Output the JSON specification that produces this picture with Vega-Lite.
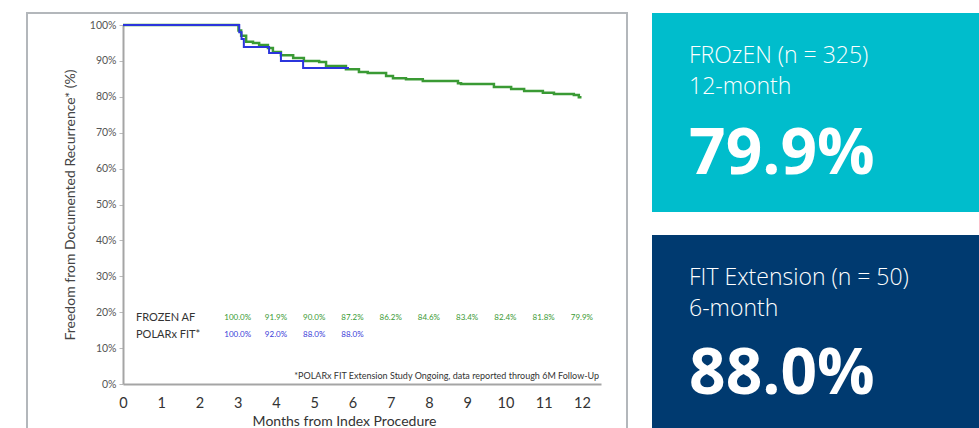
{
  "$schema": "https://vega.github.io/schema/vega-lite/v6.json",
  "background": "white",
  "padding": {"left": 26, "top": 12, "right": 0, "bottom": 0},
  "spacing": 24,
  "config": {"font": "Lato", "axis": {"grid": false}},
  "datasets": {
    "km": [
      {"series": "FROZEN AF", "month": 0, "surv": 100},
      {"series": "FROZEN AF", "month": 3.02, "surv": 98.5},
      {"series": "FROZEN AF", "month": 3.09, "surv": 97.0},
      {"series": "FROZEN AF", "month": 3.22, "surv": 95.3},
      {"series": "FROZEN AF", "month": 3.40, "surv": 95.0},
      {"series": "FROZEN AF", "month": 3.56, "surv": 94.4},
      {"series": "FROZEN AF", "month": 3.79, "surv": 93.6},
      {"series": "FROZEN AF", "month": 3.92, "surv": 92.5},
      {"series": "FROZEN AF", "month": 4.13, "surv": 91.6},
      {"series": "FROZEN AF", "month": 4.45, "surv": 90.8},
      {"series": "FROZEN AF", "month": 4.73, "surv": 90.0},
      {"series": "FROZEN AF", "month": 5.13, "surv": 89.7},
      {"series": "FROZEN AF", "month": 5.31, "surv": 88.6},
      {"series": "FROZEN AF", "month": 5.83, "surv": 87.7},
      {"series": "FROZEN AF", "month": 6.17, "surv": 86.9},
      {"series": "FROZEN AF", "month": 6.40, "surv": 86.6},
      {"series": "FROZEN AF", "month": 6.88, "surv": 85.8},
      {"series": "FROZEN AF", "month": 7.06, "surv": 85.2},
      {"series": "FROZEN AF", "month": 7.40, "surv": 84.9},
      {"series": "FROZEN AF", "month": 7.84, "surv": 84.4},
      {"series": "FROZEN AF", "month": 8.76, "surv": 83.8},
      {"series": "FROZEN AF", "month": 8.84, "surv": 83.6},
      {"series": "FROZEN AF", "month": 9.70, "surv": 82.7},
      {"series": "FROZEN AF", "month": 10.15, "surv": 82.2},
      {"series": "FROZEN AF", "month": 10.49, "surv": 81.6},
      {"series": "FROZEN AF", "month": 10.98, "surv": 81.1},
      {"series": "FROZEN AF", "month": 11.27, "surv": 80.8},
      {"series": "FROZEN AF", "month": 11.79, "surv": 80.5},
      {"series": "FROZEN AF", "month": 11.92, "surv": 79.9},
      {"series": "FROZEN AF", "month": 11.99, "surv": 79.9},
      {"series": "POLARx FIT", "month": 0, "surv": 100},
      {"series": "POLARx FIT", "month": 3.04, "surv": 98.0},
      {"series": "POLARx FIT", "month": 3.10, "surv": 96.1},
      {"series": "POLARx FIT", "month": 3.16, "surv": 93.9},
      {"series": "POLARx FIT", "month": 3.82, "surv": 92.2},
      {"series": "POLARx FIT", "month": 4.13, "surv": 90.0},
      {"series": "POLARx FIT", "month": 4.71, "surv": 88.0},
      {"series": "POLARx FIT", "month": 5.91, "surv": 88.0}
    ],
    "tbl": [
      {"series": "FROZEN AF", "month": 3, "label": "100.0%"},
      {"series": "FROZEN AF", "month": 4, "label": "91.9%"},
      {"series": "FROZEN AF", "month": 5, "label": "90.0%"},
      {"series": "FROZEN AF", "month": 6, "label": "87.2%"},
      {"series": "FROZEN AF", "month": 7, "label": "86.2%"},
      {"series": "FROZEN AF", "month": 8, "label": "84.6%"},
      {"series": "FROZEN AF", "month": 9, "label": "83.4%"},
      {"series": "FROZEN AF", "month": 10, "label": "82.4%"},
      {"series": "FROZEN AF", "month": 11, "label": "81.8%"},
      {"series": "FROZEN AF", "month": 12, "label": "79.9%"},
      {"series": "POLARx FIT", "month": 3, "label": "100.0%"},
      {"series": "POLARx FIT", "month": 4, "label": "92.0%"},
      {"series": "POLARx FIT", "month": 5, "label": "88.0%"},
      {"series": "POLARx FIT", "month": 6, "label": "88.0%"}
    ]
  },
  "hconcat": [
    {
      "width": 600,
      "height": 420,
      "view": {"fill": "white", "stroke": "#b3b7bb", "strokeWidth": 2},
      "layer": [
        {
          "data": {"name": "km"},
          "transform": [{"filter": "datum.series == 'FROZEN AF'"}],
          "mark": {"type": "line", "interpolate": "step-after", "color": "#3a9a34", "strokeWidth": 2.5},
          "encoding": {
            "x": {"field": "month", "type": "quantitative",
                  "scale": {"domain": [0, 12.5], "range": [96, 574], "nice": false, "zero": false},
                  "axis": {"title": "Months from Index Procedure", "values": [0,1,2,3,4,5,6,7,8,9,10,11,12],
                           "offset": -49, "ticks": false, "tickSize": 0, "labelPadding": 12, "labelFlush": false,
                           "labelFontSize": 14.5, "labelColor": "#333", "labelFont": "Lato",
                           "domainColor": "#a5a5a5", "domainWidth": 2, "titleX": 317,
                           "titleFontSize": 14, "titleFontWeight": "normal", "titleColor": "#333", "titlePadding": 5}},
            "y": {"field": "surv", "type": "quantitative",
                  "scale": {"domain": [0, 100], "range": [371, 12], "nice": false},
                  "axis": {"title": "Freedom from Documented Recurrence* (%)", "values": [0,10,20,30,40,50,60,70,80,90,100],
                           "labelExpr": "datum.value + '%'", "offset": -96,
                           "tickSize": 4, "tickColor": "#bbb", "labelPadding": 3,
                           "labelFontSize": 10.5, "labelColor": "#555",
                           "domainColor": "#a5a5a5", "domainWidth": 2,
                           "titleFontSize": 14, "titleFontWeight": "normal", "titleColor": "#444", "titlePadding": 12}}
          }
        },
        {
          "data": {"name": "km"},
          "transform": [{"filter": "datum.series == 'POLARx FIT'"}],
          "mark": {"type": "line", "interpolate": "step-after", "color": "#2b35dc", "strokeWidth": 2},
          "encoding": {
            "x": {"field": "month", "type": "quantitative"},
            "y": {"field": "surv", "type": "quantitative"}
          }
        },
        {
          "data": {"name": "tbl"},
          "transform": [{"filter": "datum.series == 'FROZEN AF'"}],
          "mark": {"type": "text", "align": "center", "baseline": "middle", "fontSize": 8, "color": "#3a9a34"},
          "encoding": {
            "x": {"field": "month", "type": "quantitative"},
            "y": {"datum": 18.4, "type": "quantitative"},
            "text": {"field": "label"}
          }
        },
        {
          "data": {"name": "tbl"},
          "transform": [{"filter": "datum.series == 'POLARx FIT'"}],
          "mark": {"type": "text", "align": "center", "baseline": "middle", "fontSize": 8, "color": "#3b3bd8"},
          "encoding": {
            "x": {"field": "month", "type": "quantitative"},
            "y": {"datum": 13.6, "type": "quantitative"},
            "text": {"field": "label"}
          }
        },
        {
          "data": {"values": [{"series": "FROZEN AF"}]},
          "mark": {"type": "text", "align": "left", "baseline": "middle", "fontSize": 11, "color": "#333"},
          "encoding": {
            "x": {"datum": 0.34, "type": "quantitative"},
            "y": {"datum": 18.4, "type": "quantitative"},
            "text": {"field": "series"}
          }
        },
        {
          "data": {"values": [{"series": "POLARx FIT*"}]},
          "mark": {"type": "text", "align": "left", "baseline": "middle", "fontSize": 11, "color": "#333"},
          "encoding": {
            "x": {"datum": 0.34, "type": "quantitative"},
            "y": {"datum": 13.6, "type": "quantitative"},
            "text": {"field": "series"}
          }
        },
        {
          "data": {"values": [{"note": "*POLARx FIT Extension Study Ongoing, data reported through 6M Follow-Up"}]},
          "mark": {"type": "text", "align": "right", "baseline": "middle", "fontSize": 9, "color": "#333"},
          "encoding": {
            "x": {"datum": 12.45, "type": "quantitative"},
            "y": {"datum": 2.3, "type": "quantitative"},
            "text": {"field": "note"}
          }
        }
      ]
    },
    {
      "spacing": 23,
      "vconcat": [
        {
          "width": 340,
          "height": 199,
          "view": {"fill": "#00BDCC", "stroke": null},
          "data": {"values": [
            {"line": 1, "text": "FROzEN (n = 325)"},
            {"line": 2, "text": "12-month"},
            {"line": 3, "text": "79.9%"}
          ]},
          "layer": [
            {
              "transform": [{"filter": "datum.line < 3"}],
              "mark": {"type": "text", "align": "left", "baseline": "alphabetic", "font": "Open Sans", "fontWeight": 300, "fontSize": 23, "color": "white"},
              "encoding": {
                "x": {"datum": 0.109, "type": "quantitative", "scale": {"domain": [0, 1], "nice": false}, "axis": null},
                "y": {"field": "line", "type": "quantitative", "scale": {"domain": [-0.613, 5.8], "reverse": true, "nice": false, "zero": false}, "axis": null},
                "text": {"field": "text"}
              }
            },
            {
              "transform": [{"filter": "datum.line == 3"}],
              "mark": {"type": "text", "align": "left", "baseline": "alphabetic", "font": "Open Sans", "fontWeight": "bold", "fontSize": 64, "color": "white", "dy": 49},
              "encoding": {
                "x": {"datum": 0.109, "type": "quantitative"},
                "y": {"field": "line", "type": "quantitative"},
                "text": {"field": "text"}
              }
            }
          ]
        },
        {
          "width": 340,
          "height": 200,
          "view": {"fill": "#003A70", "stroke": null},
          "data": {"values": [
            {"line": 1, "text": "FIT Extension (n = 50)"},
            {"line": 2, "text": "6-month"},
            {"line": 3, "text": "88.0%"}
          ]},
          "layer": [
            {
              "transform": [{"filter": "datum.line < 3"}],
              "mark": {"type": "text", "align": "left", "baseline": "alphabetic", "font": "Open Sans", "fontWeight": 300, "fontSize": 23, "color": "white"},
              "encoding": {
                "x": {"datum": 0.109, "type": "quantitative", "scale": {"domain": [0, 1], "nice": false}, "axis": null},
                "y": {"field": "line", "type": "quantitative", "scale": {"domain": [-0.613, 5.84], "reverse": true, "nice": false, "zero": false}, "axis": null},
                "text": {"field": "text"}
              }
            },
            {
              "transform": [{"filter": "datum.line == 3"}],
              "mark": {"type": "text", "align": "left", "baseline": "alphabetic", "font": "Open Sans", "fontWeight": "bold", "fontSize": 64, "color": "white", "dy": 47},
              "encoding": {
                "x": {"datum": 0.109, "type": "quantitative"},
                "y": {"field": "line", "type": "quantitative"},
                "text": {"field": "text"}
              }
            }
          ]
        }
      ]
    }
  ]
}
